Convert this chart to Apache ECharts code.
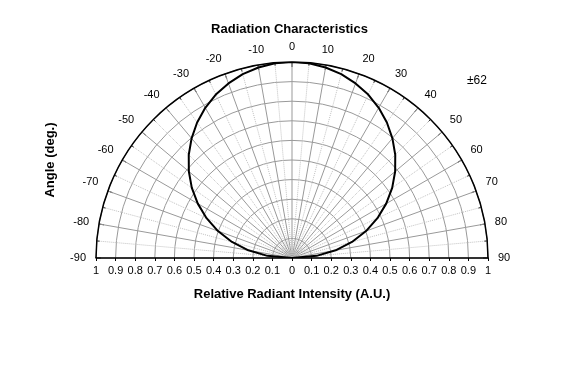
<!DOCTYPE html>
<html><head><meta charset="utf-8">
<script src="https://cdn.jsdelivr.net/npm/echarts@6/dist/echarts.min.js"></script>
<style>html,body{margin:0;padding:0;background:#fff}#c{width:579px;height:370px}</style>
</head><body><div id="c"></div>
<script>
var angles = [-90,-85,-80,-75,-70,-65,-60,-55,-50,-45,-40,-35,-30,-25,-20,-15,-10,-5,0,5,10,15,20,25,30,35,40,45,50,55,60,65,70,75,80,85,90];
var intensity = [0,0.126,0.226,0.317,0.402,0.481,0.555,0.624,0.687,0.745,0.797,0.844,0.885,0.92,0.948,0.971,0.987,0.997,1.0,0.997,0.987,0.971,0.948,0.92,0.885,0.844,0.797,0.745,0.687,0.624,0.555,0.481,0.402,0.317,0.226,0.126,0];
var title = 'Radiation Characteristics';
var halfAngleNote = '±62';
var xName = 'Relative Radiant Intensity (A.U.)';
var yName = 'Angle (deg.)';

var font = 'Liberation Sans, Arial, sans-serif';
var chart = echarts.init(document.getElementById('c'));
var data = angles.map(function(a,i){return [intensity[i], a];});
chart.setOption({
  animation:false,
  title:{text:title,left:'center',top:18,textStyle:{fontFamily:font,fontSize:13,fontWeight:'bold',color:'#000'}},
  graphic:[{type:'text',left:467,top:75,style:{text:halfAngleNote,font:'12px '+font,fill:'#000'}}],
  polar:{center:[292,258],radius:196},
  angleAxis:{type:'value',min:-90,max:90,interval:10,startAngle:180,endAngle:0,clockwise:true,
    axisLine:{lineStyle:{color:'#000',width:1.5}},
    axisTick:{show:true,inside:true,length:5,lineStyle:{color:'#000',width:1}},
    minorTick:{show:true,splitNumber:2,length:3,lineStyle:{color:'#000'}},
    axisLabel:{margin:10,fontFamily:font,fontSize:11,color:'#000'},
    splitLine:{show:true,lineStyle:{color:'#999999',width:1}},
    minorSplitLine:{show:true,lineStyle:{color:'#c0c0c0',type:'dotted',width:1}}
  },
  radiusAxis:{type:'value',min:0,max:1,interval:0.1,
    axisLine:{show:false},axisTick:{show:false},axisLabel:{show:false},
    splitLine:{show:true,lineStyle:{color:'#999999',width:1}}
  },
  grid:{left:96,width:392,top:62,height:196},
  xAxis:{type:'value',min:-1,max:1,interval:0.1,
    name:xName,nameLocation:'middle',nameGap:30,
    nameTextStyle:{fontFamily:font,fontSize:13,fontWeight:'bold',color:'#000'},
    axisLine:{onZero:false,lineStyle:{color:'#000',width:1.5}},
    axisTick:{show:true,length:3,lineStyle:{color:'#000'}},
    axisLabel:{margin:7,fontFamily:font,fontSize:11,color:'#000',
      formatter:function(v){return String(Math.round(Math.abs(v)*10)/10);}},
    splitLine:{show:false}
  },
  yAxis:{type:'value',min:0,max:1,
    name:yName,nameLocation:'middle',nameGap:39,nameRotate:90,
    nameTextStyle:{fontFamily:font,fontSize:13,fontWeight:'bold',color:'#000'},
    axisLine:{show:false},axisTick:{show:false},axisLabel:{show:false},splitLine:{show:false}
  },
  series:[{type:'line',coordinateSystem:'polar',data:data,smooth:false,showSymbol:false,
    lineStyle:{color:'#000',width:2},z:5}]
});
</script></body></html>
